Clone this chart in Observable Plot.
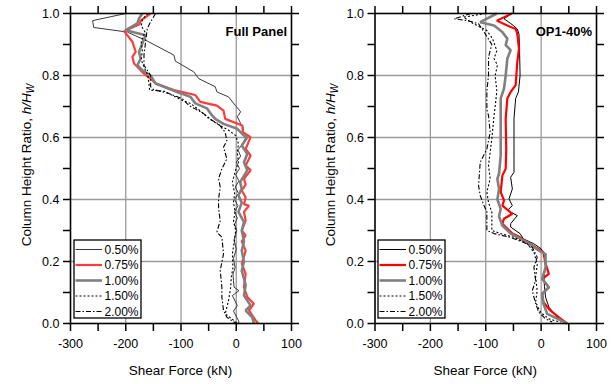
<!DOCTYPE html>
<html>
<head>
<meta charset="utf-8">
<script src="https://cdn.jsdelivr.net/npm/d3@7"></script>
<script src="https://cdn.jsdelivr.net/npm/@observablehq/plot@0.6"></script>
<style>
  html, body { margin: 0; padding: 0; background: #fff; }
  #wrap { position: relative; width: 614px; height: 384px; overflow: hidden; }
  #wrap svg { position: absolute; top: 0; }
</style>
</head>
<body>
<div id="wrap"></div>
<script>
// ---- tick labels ----
const xTicks = [-300, -200, -100, 0, 100];
const xMinor = [-250, -150, -50, 50];
const yTicks = [0, 0.2, 0.4, 0.6, 0.8, 1.0];
const yMinor = [0.1, 0.3, 0.5, 0.7, 0.9];
const seriesNames = ["0.50%", "0.75%", "1.00%", "1.50%", "2.00%"];
const panelTitles = ["Full Panel", "OP1-40%"];

// ---- Full Panel data: [h/Hw, shear kN] ----
const fp050 = [[1.0,-200],[0.977,-260],[0.955,-258],[0.94,-197],[0.911,-161],[0.866,-113],[0.846,-110],[0.812,-77],[0.79,-68],[0.764,-38],[0.747,-35],[0.731,-14],[0.704,-2],[0.683,8],[0.667,2],[0.645,8],[0.629,13],[0.613,11],[0.6,17],[0.58,12],[0.56,3],[0.54,8],[0.52,0],[0.5,6],[0.48,-1],[0.46,5],[0.44,-2],[0.42,4],[0.4,-3],[0.38,3],[0.36,-3],[0.34,2],[0.32,-3],[0.3,1],[0.27,-4],[0.24,0],[0.21,-5],[0.18,-2],[0.16,-6],[0.139,-5],[0.117,-4],[0.106,5],[0.09,-7],[0.058,2],[0.04,-5],[0.01,4],[0,5]];
const fp075 = [[1.0,-155],[0.977,-173],[0.965,-175],[0.943,-203],[0.909,-188],[0.876,-182],[0.86,-188],[0.839,-185],[0.806,-167],[0.785,-152],[0.774,-146],[0.753,-113],[0.737,-74],[0.715,-65],[0.703,-35],[0.687,-23],[0.66,-20],[0.639,11],[0.617,12],[0.601,26],[0.563,17],[0.542,26],[0.51,17],[0.494,26],[0.467,14],[0.448,17],[0.429,10],[0.407,17],[0.385,14],[0.38,23],[0.36,14],[0.332,17],[0.3,10],[0.284,17],[0.265,10],[0.235,17],[0.193,10],[0.16,17],[0.117,14],[0.085,20],[0.064,32],[0.042,23],[0.01,35],[0,40]];
const fp100 = [[1.0,-170],[0.984,-176],[0.968,-179],[0.946,-200],[0.93,-164],[0.903,-170],[0.876,-176],[0.855,-173],[0.833,-179],[0.817,-170],[0.8,-155],[0.774,-146],[0.747,-107],[0.731,-83],[0.71,-74],[0.694,-53],[0.672,-44],[0.66,-38],[0.644,-23],[0.628,2],[0.606,14],[0.601,20],[0.574,10],[0.547,20],[0.52,14],[0.494,20],[0.456,7],[0.435,10],[0.413,4],[0.39,10],[0.36,4],[0.327,14],[0.3,10],[0.265,14],[0.235,10],[0.2,14],[0.17,10],[0.125,17],[0.09,14],[0.058,26],[0.042,17],[0.02,29],[0,32]];
const fp150 = [[1.0,-160],[0.98,-170],[0.96,-172],[0.94,-165],[0.91,-172],[0.88,-170],[0.85,-172],[0.82,-165],[0.8,-160],[0.775,-158],[0.753,-157],[0.749,-130],[0.739,-119],[0.72,-98],[0.71,-83],[0.694,-71],[0.668,-53],[0.644,-35],[0.625,-15],[0.606,-1],[0.58,4],[0.55,2],[0.52,4],[0.49,-2],[0.456,-7],[0.42,-3],[0.39,-5],[0.36,-2],[0.33,-5],[0.3,-1],[0.26,-4],[0.225,-7],[0.18,-6],[0.15,-9],[0.117,-10],[0.074,-14],[0.031,-20],[0.015,-8],[0,2]];
const fp200 = [[1.0,-146],[0.973,-155],[0.952,-161],[0.909,-164],[0.866,-167],[0.833,-167],[0.817,-161],[0.8,-155],[0.764,-155],[0.755,-150],[0.742,-122],[0.726,-98],[0.704,-86],[0.677,-59],[0.661,-50],[0.644,-32],[0.617,-20],[0.59,-17],[0.569,-23],[0.531,-17],[0.499,-26],[0.467,-32],[0.44,-29],[0.402,-32],[0.37,-32],[0.332,-29],[0.295,-35],[0.278,-26],[0.225,-23],[0.171,-29],[0.117,-26],[0.085,-26],[0.042,-23],[0.02,-17],[0,0]];

// ---- OP1-40% data ----
const op050 = [[1.0,-53],[0.983,-67],[0.969,-56],[0.961,-50],[0.95,-43],[0.934,-40],[0.887,-39],[0.8,-38],[0.747,-41],[0.726,-46],[0.661,-49],[0.6,-49],[0.53,-49],[0.488,-49],[0.472,-55],[0.434,-52],[0.402,-58],[0.38,-52],[0.365,-61],[0.348,-43],[0.322,-55],[0.311,-55],[0.29,-38],[0.273,-32],[0.257,-13],[0.241,0],[0.219,8],[0.181,8],[0.15,5],[0.12,6],[0.085,8],[0.053,14],[0.02,29],[0,44]];
const op075 = [[1.0,-53],[0.977,-80],[0.961,-61],[0.95,-46],[0.934,-43],[0.887,-40],[0.844,-43],[0.769,-46],[0.747,-55],[0.726,-61],[0.661,-64],[0.563,-63],[0.499,-64],[0.477,-70],[0.424,-73],[0.397,-67],[0.38,-70],[0.354,-52],[0.338,-67],[0.322,-70],[0.311,-64],[0.29,-52],[0.278,-38],[0.257,-20],[0.23,4],[0.193,8],[0.16,14],[0.144,2],[0.117,14],[0.096,2],[0.069,4],[0.045,15],[0.02,32],[0,47]];
const op100 = [[1.0,-80],[0.972,-110],[0.961,-85],[0.94,-70],[0.919,-61],[0.898,-64],[0.882,-55],[0.855,-61],[0.8,-64],[0.758,-67],[0.726,-73],[0.661,-73],[0.542,-73],[0.483,-76],[0.467,-79],[0.434,-76],[0.4,-79],[0.37,-73],[0.345,-76],[0.316,-70],[0.29,-55],[0.262,-25],[0.235,-4],[0.224,8],[0.181,8],[0.144,2],[0.117,14],[0.096,2],[0.064,4],[0.031,11],[0.015,30],[0,47]];
const op150 = [[1.0,-100],[0.988,-140],[0.972,-127],[0.945,-98],[0.92,-88],[0.88,-80],[0.855,-85],[0.833,-79],[0.8,-83],[0.75,-80],[0.7,-83],[0.671,-85],[0.596,-89],[0.51,-95],[0.467,-92],[0.424,-98],[0.39,-95],[0.359,-89],[0.322,-89],[0.3,-89],[0.29,-73],[0.278,-49],[0.257,-25],[0.23,-13],[0.19,-7],[0.15,-10],[0.106,-7],[0.069,-10],[0.036,-1],[0.015,14],[0.004,35]];
const op200 = [[1.0,-127],[0.983,-157],[0.977,-133],[0.967,-113],[0.94,-103],[0.9,-89],[0.86,-95],[0.8,-95],[0.75,-98],[0.69,-98],[0.671,-95],[0.617,-92],[0.563,-98],[0.52,-110],[0.445,-113],[0.413,-110],[0.38,-103],[0.36,-98],[0.3,-98],[0.29,-85],[0.278,-56],[0.262,-32],[0.246,-16],[0.214,-7],[0.182,-13],[0.139,-10],[0.106,-16],[0.064,-10],[0.036,-4],[0.015,8],[0.005,20]];

const FONT = "'Liberation Sans', Arial, Helvetica, sans-serif";

function styles(first, red) {
  return [
    {stroke: first, strokeWidth: 1, dash: null},
    {stroke: red, strokeWidth: 2.2, dash: null},
    {stroke: "#808080", strokeWidth: 2.6, dash: null},
    {stroke: "#000", strokeWidth: 1.1, dash: "2,2"},
    {stroke: "#000", strokeWidth: 1.1, dash: "5,2,1.5,2"}
  ];
}

const panels = [
  {left: 0, ml: 70, mr: 16, series: [fp050, fp075, fp100, fp150, fp200], st: styles("#3a3a3a", "#ff3c3c"), title: panelTitles[0], ytx: 27, legX: 74},
  {left: 307, ml: 67.5, mr: 18, series: [op050, op075, op100, op150, op200], st: styles("#000", "#ff0000"), title: panelTitles[1], ytx: 24, legX: 71}
];

const wrap = document.getElementById("wrap");
const W = 307, H = 384, MT = 13, MB = 61;

panels.forEach(p => {
  const lineMarks = p.series.map((s, i) => Plot.line(s, {
    x: d => d[1], y: d => d[0],
    stroke: p.st[i].stroke, strokeWidth: p.st[i].strokeWidth,
    strokeDasharray: p.st[i].dash, strokeLinejoin: "miter", strokeLinecap: "butt"
  }));
  const chart = Plot.plot({
    width: W, height: H,
    marginLeft: p.ml, marginRight: p.mr, marginTop: MT, marginBottom: MB,
    x: {domain: [-300, 100]},
    y: {domain: [0, 1]},
    style: {fontFamily: FONT, fontSize: "12.5px", color: "#000", background: "transparent", overflow: "visible"},
    marks: [
      Plot.gridX([-200, -100, 0], {stroke: "#9a9a9a", strokeOpacity: 1, strokeWidth: 1.3}),
      Plot.gridY([0.2, 0.4, 0.6, 0.8], {stroke: "#9a9a9a", strokeOpacity: 1, strokeWidth: 1.3}),
      ...lineMarks,
      Plot.frame({stroke: "#000", strokeWidth: 1.6}),
      Plot.axisX(xTicks, {anchor: "bottom", tickSize: 8, tickPadding: 8, strokeWidth: 1.5, label: null, tickFormat: d => String(d), fontSize: 12.5}),
      Plot.axisX(xMinor, {anchor: "bottom", tickSize: 8, strokeWidth: 1.5, label: null, tickFormat: () => ""}),
      Plot.axisX(xTicks.concat(xMinor), {anchor: "top", tickSize: 8, strokeWidth: 1.5, label: null, tickFormat: () => ""}),
      Plot.axisY(yTicks, {anchor: "left", tickSize: 7, tickPadding: 4, strokeWidth: 1.5, label: null, tickFormat: d3.format(".1f"), fontSize: 12.5}),
      Plot.axisY(yMinor, {anchor: "left", tickSize: 7, strokeWidth: 1.5, label: null, tickFormat: () => ""}),
      Plot.axisY(yTicks.concat(yMinor), {anchor: "right", tickSize: 7, strokeWidth: 1.5, label: null, tickFormat: () => ""})
    ]
  });
  chart.style.left = p.left + "px";
  wrap.appendChild(chart);

  const svg = d3.select(chart);
  const plotL = p.ml, plotR = W - p.mr;
  const cx = (plotL + plotR) / 2;

  // x-axis title
  svg.append("text").attr("x", cx).attr("y", 375).attr("text-anchor", "middle")
    .style("font-family", FONT).style("font-size", "13.5px").text("Shear Force (kN)");

  // y-axis title
  const yt = svg.append("text")
    .attr("transform", `translate(${p.ytx},${(MT + H - MB) / 2 - 3}) rotate(-90)`)
    .attr("text-anchor", "middle").attr("dominant-baseline", "middle")
    .style("font-family", FONT).style("font-size", "13.5px");
  yt.append("tspan").text("Column Height Ratio, ");
  yt.append("tspan").style("font-style", "italic").text("h/H");
  yt.append("tspan").style("font-style", "italic").style("font-size", "10px").attr("dy", 4).text("W");

  // panel label
  svg.append("text").attr("x", plotR - 4).attr("y", 36).attr("text-anchor", "end")
    .style("font-family", FONT).style("font-size", "13px").style("font-weight", "bold").text(p.title);

  // legend
  const lx = p.legX, ly = 240, lw = 67, lh = 78;
  const g = svg.append("g");
  g.append("rect").attr("x", lx).attr("y", ly).attr("width", lw).attr("height", lh)
    .attr("fill", "#fff").attr("stroke", "#000").attr("stroke-width", 1.3);
  seriesNames.forEach((name, i) => {
    const yy = ly + 9.5 + i * 15.5;
    g.append("line").attr("x1", lx + 1.5).attr("x2", lx + 28).attr("y1", yy).attr("y2", yy)
      .attr("stroke", p.st[i].stroke).attr("stroke-width", p.st[i].strokeWidth)
      .attr("stroke-dasharray", p.st[i].dash);
    g.append("text").attr("x", lx + 30.5).attr("y", yy).attr("dy", "0.36em")
      .attr("text-anchor", "start")
      .style("font-family", FONT).style("font-size", "12px").text(name);
  });
});
</script>
</body>
</html>
